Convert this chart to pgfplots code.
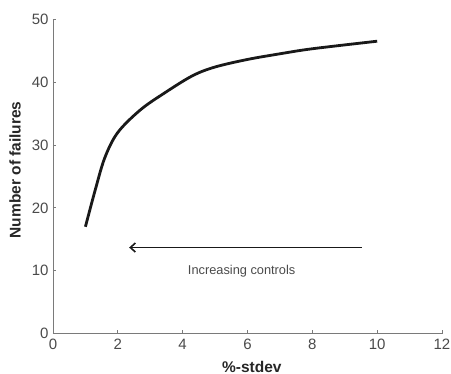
\documentclass[border=0pt]{standalone}
\usepackage{fontspec}
\setmainfont{Liberation Sans}
\usepackage{pgfplots}
\pgfplotsset{compat=1.18}
\usetikzlibrary{arrows.meta}
\definecolor{axgray}{HTML}{7A7A7A}
\definecolor{txtgray}{HTML}{4A4A4A}
\begin{document}
\begin{tikzpicture}
\begin{axis}[
  scale only axis,
  width=389pt, height=314.5pt,
  xmin=0, xmax=12, ymin=0, ymax=50,
  xtick={0,2,...,12}, ytick={0,10,...,50},
  axis x line*=bottom, axis y line*=left,
  axis line style={axgray, line width=0.8pt, -},
  tick style={axgray, line width=0.8pt},
  tick align=inside,
  major tick length=3.5pt,
  /pgf/number format/assume math mode=true,
  ticklabel style={font=\fontsize{15}{17}\selectfont, text=txtgray},
  xticklabel style={yshift=-2pt},
  yticklabel style={xshift=-1pt},
  xlabel={\textbf{\%-stdev}},
  ylabel={\textbf{Number of failures}},
  label style={font=\fontsize{15.5}{18}\selectfont, text=black!85},
  xlabel style={at={(axis description cs:0.511,0)}, anchor=base, inner sep=0pt, yshift=-39pt},
  ylabel style={at={(axis description cs:-0.0977,0.521)}, anchor=center, inner sep=0pt},
  clip=false,
]
\addplot[black!90, line width=2.8pt, smooth, tension=0.55] coordinates {
  (1.0,17.0) (1.3,22.8) (1.6,28.0) (2.0,32.0) (2.7,35.6) (3.45,38.3)
  (4.3,41.0) (5.0,42.4) (6.0,43.6) (7.0,44.5) (8.0,45.3) (10.0,46.5)
};
\draw[black!90, line width=1.6pt, -{Straight Barb[length=5pt,width=9pt,line width=1.6pt]}]
  (axis cs:9.53,13.7) -- (axis cs:2.35,13.7);
\node[font=\fontsize{12.8}{15}\selectfont, text=txtgray] at (axis cs:5.82,9.9) {Increasing controls};
\coordinate (O) at (axis cs:0,0);
\end{axis}
\pgfresetboundingbox
\path[use as bounding box] ([shift={(-53pt,-40.3pt)}]O) rectangle ([shift={(398pt,333.7pt)}]O);
\end{tikzpicture}
\end{document}
